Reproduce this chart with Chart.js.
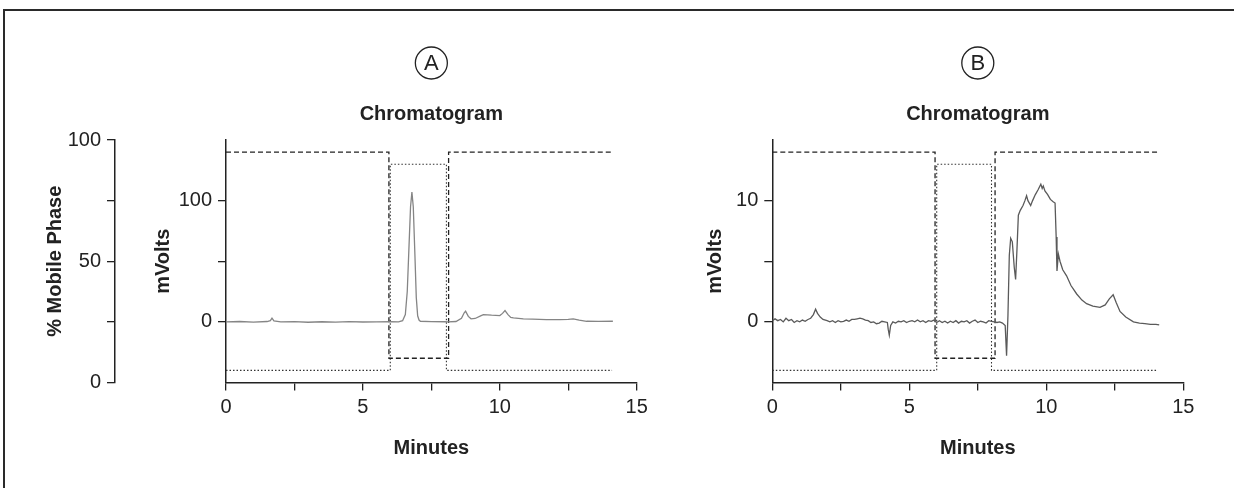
<!DOCTYPE html>
<html>
<head>
  <title>Chromatogram</title>
  <script src="https://cdn.jsdelivr.net/npm/chart.js"></script>
  <style>
    body {
      margin: 0;
      background: #fff;
      width: 1234px;
      height: 488px;
      overflow: hidden;
      position: relative;
    }
    .frame {
      position: absolute;
      left: 3px;
      top: 9px;
      width: 1260px;
      height: 520px;
      border-top: 2px solid #2a2a2a;
      border-left: 2px solid #2a2a2a;
    }
    canvas { position: absolute; top: 0; }
    #chartA { left: 0; }
    #chartB { left: 600px; }
  </style>
</head>
<body>
  <div class="frame"></div>
  <canvas id="chartA" width="680" height="488"></canvas>
  <canvas id="chartB" width="634" height="488"></canvas>

  <script>
    // panel A trace (minutes / mVolts)
    const minutesA = [0, 0.5, 1.0, 1.5, 1.62, 1.68, 1.75, 2.0, 2.5, 3.0, 3.5, 4.0, 4.5, 5.0, 5.5, 6.0, 6.3, 6.45,
      6.55, 6.62, 6.68, 6.74, 6.79, 6.84, 6.9, 6.95, 7.0, 7.05, 7.1, 7.5, 8.0, 8.1, 8.4, 8.6, 8.7, 8.75, 8.85,
      8.95, 9.1, 9.3, 9.4, 9.7, 10.0, 10.1, 10.19, 10.3, 10.4, 10.5, 10.86, 11.2, 11.7, 12.2, 12.5, 12.68,
      12.9, 13.17, 13.6, 14.13];
    const mvoltsA = [0, 0.3, -0.2, 0.3, 1.0, 3.0, 0.8, 0, 0.2, -0.3, 0.1, -0.2, 0.2, -0.1, 0, 0.2, 0, 1,
      6, 25, 60, 95, 107, 95, 55, 20, 5, 1.5, 0.5, 0.2, 0.1, 0, 0.3, 3, 7.5, 8.8, 4.5,
      2.5, 2.8, 5.0, 6.0, 5.5, 5.2, 7.0, 9.3, 6.0, 3.6, 3.3, 2.5, 2.2, 1.9, 1.8, 2.1, 2.5,
      1.4, 0.5, 0.4, 0.5];

    // panel B trace (minutes / mVolts)
    const minutesB = [0.0, 0.1, 0.2, 0.3, 0.4, 0.5, 0.6, 0.7, 0.8, 0.9, 1.0, 1.1, 1.2, 1.3, 1.4, 1.5, 1.58, 1.65,
      1.75, 1.85, 2.0, 2.1, 2.2, 2.3, 2.4, 2.5, 2.6, 2.7, 2.8, 2.9, 3.0, 3.1, 3.2, 3.3, 3.4, 3.5, 3.6, 3.7,
      3.8, 3.9, 4.0, 4.1, 4.2, 4.23, 4.27, 4.32, 4.4, 4.5, 4.6, 4.7, 4.8, 4.9, 5.0, 5.1, 5.2, 5.3, 5.4, 5.5,
      5.6, 5.7, 5.8, 5.9, 6.0, 6.1, 6.2, 6.3, 6.4, 6.5, 6.6, 6.7, 6.8, 6.9, 7.0, 7.1, 7.2, 7.3, 7.4, 7.5,
      7.6, 7.7, 7.8, 7.9, 8.0, 8.1, 8.2, 8.3, 8.4, 8.5, 8.55, 8.6, 8.65, 8.7, 8.76, 8.83, 8.88, 8.93, 8.98,
      9.05, 9.15, 9.22, 9.28, 9.33, 9.43, 9.5, 9.6, 9.7, 9.8, 9.85, 9.89, 9.95, 10.05, 10.15, 10.25, 10.32,
      10.36, 10.39, 10.44, 10.5, 10.6, 10.74, 10.9, 11.11, 11.3, 11.47, 11.7, 11.96, 12.15, 12.3, 12.44,
      12.55, 12.69, 12.9, 13.18, 13.4, 13.6, 13.8, 14.0, 14.12];
    const mvoltsB = [0.1, 0.25, 0.1, 0.2, 0.0, 0.3, 0.1, 0.2, -0.05, 0.1, 0.0, 0.15, 0.05, 0.2, 0.3, 0.6, 1.05, 0.7,
      0.4, 0.2, 0.1, 0.0, 0.1, -0.05, 0.1, 0.0, 0.05, 0.15, 0.05, 0.2, 0.2, 0.25, 0.3, 0.25, 0.15, 0.1, -0.05, 0.0,
      -0.15, -0.1, 0.05, 0.0, -0.05, -0.6, -1.1, -0.3, 0.0, -0.1, 0.05, 0.0, 0.1, -0.05, 0.05, 0.1, 0.0, 0.15, 0.0, 0.1,
      -0.05, 0.1, 0.05, 0.15, -0.05, 0.1, -0.05, 0.05, -0.1, 0.05, -0.05, 0.1, -0.1, 0.05, 0.0, 0.1, -0.1, 0.05, 0.15, -0.05,
      0.05, 0.0, -0.1, 0.1, 0.05, 0.0, -0.05, 0.0, -0.1, -0.3, -2.8, 0.5, 5.5, 6.9, 6.6, 4.5, 3.5, 6.0, 8.8,
      9.2, 9.6, 10.0, 10.4, 10.0, 9.6, 10.0, 10.5, 10.9, 11.36, 11.0, 11.2, 10.8, 10.5, 10.1, 9.9, 9.8,
      7.0, 4.2, 5.6, 5.0, 4.3, 3.8, 3.0, 2.3, 1.8, 1.5, 1.3, 1.2, 1.4, 1.9, 2.24,
      1.6, 0.86, 0.4, 0.0, -0.1, -0.15, -0.2, -0.2, -0.25];

    // gradient programme (% mobile phase)
    const dashMinA = [0, 5.95, 5.95, 8.13, 8.13, 14.1];
    const dashPctA = [95, 95, 10, 10, 95, 95];
    const dotMinA = [0, 6.0, 6.0, 8.05, 8.05, 14.1];
    const dotPctA = [5, 5, 90, 90, 5, 5];
    const dashMinB = [0, 5.94, 5.94, 8.13, 8.13, 14.07];
    const dashPctB = [95, 95, 10, 10, 95, 95];
    const dotMinB = [0, 6.0, 6.0, 8.0, 8.0, 14.07];
    const dotPctB = [5, 5, 90, 90, 5, 5];

    // tick labels
    const minuteLabels = [0, 5, 10, 15];
    const phaseLabels = [0, 50, 100];
    const mvLabelsA = [0, 100];
    const mvLabelsB = [0, 10];

    const FONT = "'Liberation Sans', Arial, sans-serif";
    const INK = '#222';
    Chart.defaults.font.family = FONT;
    Chart.defaults.color = INK;

    const pts = (xs, ys) => xs.map((x, i) => ({ x, y: ys[i] }));

    const panelTag = {
      id: 'panelTag',
      afterDraw(chart, args, opts) {
        const { ctx, chartArea } = chart;
        const cx = (chartArea.left + chartArea.right) / 2;
        const cy = chartArea.top - 77;
        ctx.save();
        ctx.beginPath();
        ctx.arc(cx, cy, 16, 0, Math.PI * 2);
        ctx.lineWidth = 1.3;
        ctx.strokeStyle = INK;
        ctx.stroke();
        ctx.fillStyle = INK;
        ctx.font = '22px ' + FONT;
        ctx.textAlign = 'center';
        ctx.textBaseline = 'middle';
        ctx.fillText(opts.letter, cx, cy + 1);
        ctx.restore();
      }
    };

    const axisLine = { display: true, color: INK, width: 1.5 };
    const tickMarks = { drawOnChartArea: false, drawTicks: true, tickLength: 8, color: INK, lineWidth: 1.3 };
    const boldTitle = text => ({ display: true, text, font: { size: 20, weight: 'bold' }, color: INK });

    function makeChart(id, o) {
      return new Chart(document.getElementById(id), {
        type: 'line',
        data: {
          datasets: [
            { data: pts(o.traceX, o.traceY), yAxisID: 'y', borderColor: o.traceColor, borderWidth: 1.3 },
            { data: pts(o.dashX, o.dashY), yAxisID: 'mp', borderColor: INK, borderWidth: 1.3, borderDash: [5, 3] },
            { data: pts(o.dotX, o.dotY), yAxisID: 'mp', borderColor: '#333', borderWidth: 1.1, borderDash: [1.5, 2] }
          ]
        },
        options: {
          responsive: false,
          animation: false,
          devicePixelRatio: 1,
          elements: { point: { radius: 0 }, line: { tension: 0 } },
          layout: { padding: { left: 10, right: o.padRight, top: 0, bottom: 0 } },
          plugins: {
            legend: { display: false },
            tooltip: { enabled: false },
            title: {
              display: true, text: 'Chromatogram', fullSize: false, color: INK,
              font: { size: 20, weight: 'bold' }, padding: { top: 102, bottom: 14 }
            },
            panelTag: { letter: o.letter }
          },
          scales: {
            x: {
              type: 'linear', min: 0, max: 15,
              grid: tickMarks, border: axisLine,
              ticks: { stepSize: 2.5, padding: 4.5, font: { size: 20 }, color: INK,
                callback: v => minuteLabels.includes(v) ? v : '' },
              title: { ...boldTitle('Minutes'), padding: { top: 0, bottom: 28 } },
              afterFit: s => { s.height = 105.5; }
            },
            y: {
              position: 'left', weight: 0, min: o.mvMin, max: o.mvMax,
              grid: tickMarks, border: axisLine,
              ticks: { stepSize: o.mvStep, padding: 6, font: { size: 20 }, color: INK,
                callback: v => o.mvLabels.includes(v) ? v : '' },
              afterBuildTicks: s => { s.ticks = s.ticks.filter(t => t.value >= 0 && t.value <= o.mvLabels[1]); },
              title: { ...boldTitle('mVolts'), padding: { top: o.mvTitlePad, bottom: 0 } },
              afterFit: s => { s.width = o.mvWidth; }
            },
            mp: {
              display: o.showPhase, position: 'left', weight: 1, min: 0, max: 100,
              grid: tickMarks, border: axisLine,
              ticks: { stepSize: 25, padding: 6, font: { size: 20 }, color: INK,
                callback: v => phaseLabels.includes(v) ? v : '' },
              title: { ...boldTitle('% Mobile Phase'), padding: { top: 33, bottom: 0 } },
              afterFit: s => { s.width = o.showPhase ? 105 : 0; }
            }
          }
        },
        plugins: [panelTag]
      });
    }

    makeChart('chartA', {
      letter: 'A', traceX: minutesA, traceY: mvoltsA, traceColor: '#858585',
      dashX: dashMinA, dashY: dashPctA, dotX: dotMinA, dotY: dotPctA,
      mvMin: -50, mvMax: 150, mvStep: 50, mvLabels: mvLabelsA,
      mvWidth: 111, mvTitlePad: 36, showPhase: true, padRight: 43.3
    });

    makeChart('chartB', {
      letter: 'B', traceX: minutesB, traceY: mvoltsB, traceColor: '#5a5a5a',
      dashX: dashMinB, dashY: dashPctB, dotX: dotMinB, dotY: dotPctB,
      mvMin: -5, mvMax: 15, mvStep: 5, mvLabels: mvLabelsB,
      mvWidth: 162.3, mvTitlePad: 93, showPhase: false, padRight: 50.7
    });
  </script>
</body>
</html>
